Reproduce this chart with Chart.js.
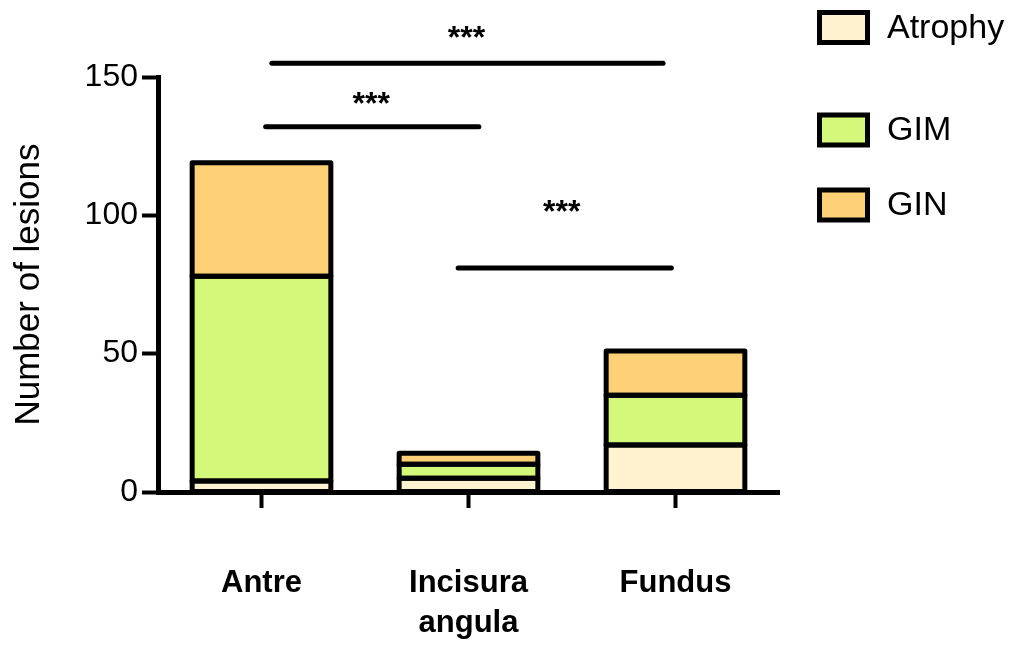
<!DOCTYPE html>
<html>
<head>
<meta charset="utf-8">
<script src="https://cdn.jsdelivr.net/npm/chart.js@4/dist/chart.umd.min.js"></script>
<style>
  html, body { margin: 0; padding: 0; background: #fff; }
  canvas { display: block; }
</style>
</head>
<body>
<canvas id="chart" width="1012" height="645"></canvas>
<script>
const categories = ["Antre", ["Incisura", "angula"], "Fundus"];
const seriesNames = ["Atrophy", "GIM", "GIN"];
const atrophy = [4, 5, 17];
const gim = [74, 5, 18];
const gin = [41, 4, 16];
const yTicks = [0, 50, 100, 150];
// significance bars, in data units (x = category index, y = lesions)
const brackets = [
  { from: 0.05, to: 1.94, y: 155, text: "***", textX: 0.99, textY: 166 },
  { from: 0.02, to: 1.05, y: 132, text: "***", textX: 0.53, textY: 142 },
  { from: 0.95, to: 1.98, y: 81, text: "***", textX: 1.45, textY: 103 },
];

const FONT = "'Liberation Sans', Arial, sans-serif";
const colors = ["#FFF3CF", "#D4F97A", "#FED176"];

// GraphPad-style outlines, centred on each segment edge
const outlinePlugin = {
  id: "outlines",
  afterDatasetsDraw(chart) {
    const ctx = chart.ctx;
    ctx.save();
    ctx.strokeStyle = "#000";
    ctx.lineWidth = 5;
    ctx.lineJoin = "round";
    chart.data.datasets.forEach((ds, i) => {
      chart.getDatasetMeta(i).data.forEach(bar => {
        const p = bar.getProps(["x", "y", "base", "width"], true);
        ctx.strokeRect(p.x - p.width / 2, p.y, p.width, p.base - p.y);
      });
    });
    ctx.restore();
  }
};

const bracketPlugin = {
  id: "brackets",
  afterDraw(chart) {
    const { ctx, scales: { x, y } } = chart;
    const step = x.getPixelForValue(1) - x.getPixelForValue(0);
    const x0 = x.getPixelForValue(0);
    ctx.save();
    ctx.strokeStyle = "#000";
    ctx.lineWidth = 5;
    ctx.lineCap = "round";
    ctx.fillStyle = "#000";
    ctx.font = "bold 32px " + FONT;
    ctx.textAlign = "center";
    ctx.textBaseline = "alphabetic";
    brackets.forEach(b => {
      const py = y.getPixelForValue(b.y);
      ctx.beginPath();
      ctx.moveTo(x0 + b.from * step, py);
      ctx.lineTo(x0 + b.to * step, py);
      ctx.stroke();
      ctx.fillText(b.text, x0 + b.textX * step, y.getPixelForValue(b.textY) + 15);
    });
    ctx.restore();
  }
};

const legendPlugin = {
  id: "sideLegend",
  afterDraw(chart) {
    const ctx = chart.ctx;
    const rows = [27.5, 130, 205];
    ctx.save();
    ctx.font = "34px " + FONT;
    ctx.textBaseline = "middle";
    ctx.textAlign = "left";
    chart.data.datasets.forEach((ds, i) => {
      const cy = rows[i];
      ctx.fillStyle = ds.backgroundColor;
      ctx.fillRect(819.5, cy - 15, 48, 30);
      ctx.lineWidth = 5;
      ctx.strokeStyle = "#000";
      ctx.strokeRect(819.5, cy - 15, 48, 30);
      ctx.fillStyle = "#000";
      ctx.fillText(ds.label, 887, cy + 1);
    });
    ctx.restore();
  }
};

new Chart(document.getElementById("chart"), {
  type: "bar",
  data: {
    labels: categories,
    datasets: [atrophy, gim, gin].map((d, i) => ({
      label: seriesNames[i],
      data: d,
      backgroundColor: colors[i],
      borderWidth: 0,
      categoryPercentage: 1,
      barPercentage: 0.67,
    })),
  },
  options: {
    responsive: false,
    animation: false,
    layout: { padding: { top: 77, right: 233, left: 0, bottom: 0 } },
    plugins: { legend: { display: false }, tooltip: { enabled: false } },
    scales: {
      x: {
        stacked: true,
        offset: true,
        afterFit: s => { s.height = 153; },
        grid: {
          offset: false,
          drawOnChartArea: false,
          drawTicks: true,
          tickLength: 16,
          tickWidth: 4,
          tickColor: "#000",
        },
        border: { display: true, color: "#000", width: 5 },
        ticks: {
          color: "#000",
          padding: 55,
          maxRotation: 0,
          font: { family: FONT, size: 31, weight: "bold", lineHeight: 1.3 },
        },
      },
      y: {
        stacked: true,
        min: 0,
        max: 150,
        afterFit: s => { s.width = 158; },
        afterBuildTicks: s => { s.ticks = yTicks.map(v => ({ value: v })); },
        grid: {
          drawOnChartArea: false,
          drawTicks: true,
          tickLength: 16,
          tickWidth: 4,
          tickColor: "#000",
        },
        border: { display: true, color: "#000", width: 5 },
        ticks: {
          color: "#000",
          padding: 4,
          font: { family: FONT, size: 32 },
        },
        title: {
          display: true,
          text: "Number of lesions",
          color: "#000",
          padding: { top: 10, bottom: 0 },
          font: { family: FONT, size: 35, lineHeight: 1.1 },
        },
      },
    },
  },
  plugins: [outlinePlugin, bracketPlugin, legendPlugin],
});
</script>
</body>
</html>
